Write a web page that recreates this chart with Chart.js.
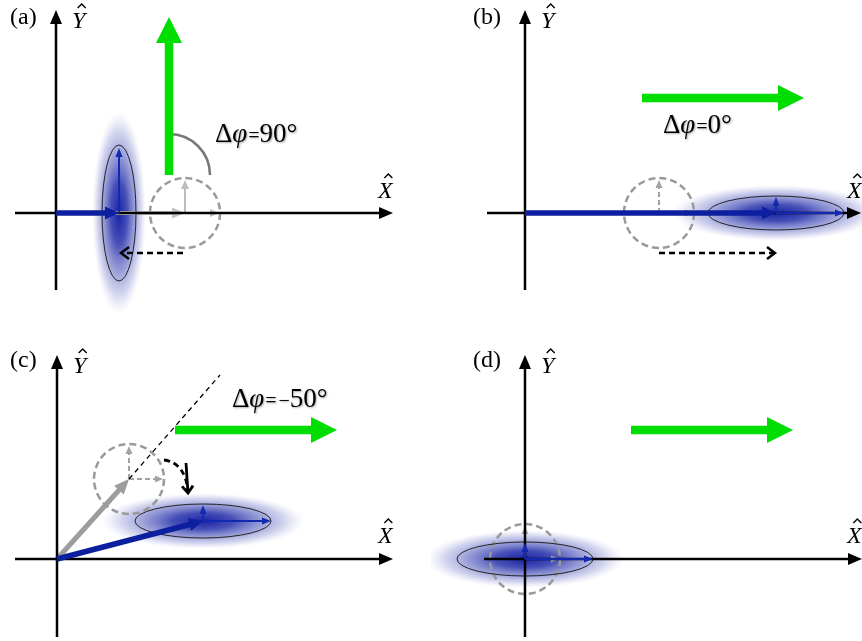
<!DOCTYPE html>
<html><head><meta charset="utf-8">
<script src="https://cdn.jsdelivr.net/npm/chart.js@4.4.1/dist/chart.umd.min.js"></script>
<style>
html,body{margin:0;padding:0;background:#fff;}
#wrap{position:relative;width:862px;height:641px;overflow:hidden;background:#fff;}
canvas{position:absolute;}
#fontwarm{position:absolute;left:-1000px;top:0;font-family:"Liberation Serif";font-size:24px;}
</style></head><body>
<div id="fontwarm">Δφ=90° (a) <i>XYφ</i></div>
<div id="wrap">
<canvas id="c0" width="431" height="320" style="left:0;top:0;width:431px;height:320px"></canvas>
<canvas id="c1" width="431" height="320" style="left:431px;top:0;width:431px;height:320px"></canvas>
<canvas id="c2" width="431" height="321" style="left:0;top:320px;width:431px;height:321px"></canvas>
<canvas id="c3" width="431" height="321" style="left:431px;top:320px;width:431px;height:321px"></canvas>
</div>
<script>
// ---------------- data ----------------
const panelLabels = ['(a)', '(b)', '(c)', '(d)'];
const phaseValues = ['90°', '0°', '−50°', null];

// green pump arrows: start -> end (quadrature units)
const pumpStart = [[113, 38], [117, 115], [118, 129], [106, 129]];
const pumpEnd   = [[113, 196], [279, 115], [280, 129], [268, 129]];

// squeezed state mean (blue)
const squeezedMean = [[63, 0], [251, 0], [146, 38], [0, 0]];
// squeezing ellipse semi-axes [x, y]
const ellipseAxes = [[17, 68], [68, 17], [68, 17], [68, 17]];
// gaussian blob semi-axes [x, y]
const blobAxes = [[27, 102], [104, 28], [102, 28], [100, 29]];
// quadrature arrows of squeezed state [dx, dy]
const quadArrowX = [0, 68, 68, 68];
const quadArrowY = [65, 16, 16, 16];

// reference coherent state (dashed circle)
const refCenter = [[129, 0], [134, 0], [72, 80], [0, 0]];
const refRadius = [35, 35, 35, 35];
const refArrowX = [34, 34, 34, 34];
const refArrowY = [33, 33, 33, 33];
const refDisplacementShown = [true, false, true, false];

// dashed black shift arrows: start, control (curve), end
const shiftStart = [[127, -40], [134, -40], [107, 99], null];
const shiftCtrl  = [null, null, [129, 96], null];
const shiftEnd   = [[65, -40], [250, -40], [131, 66], null];

// phase reference line (panel c)
const phaseLineStart = [null, null, [72, 80], null];
const phaseLineEnd   = [null, null, [163, 184], null];
// angle arc (panel a): radius around pump start
const arcRadius = [41, null, null, null];

// axis extents
const xAxisFrom = [-41, -38, -42, -41], xAxisTo = [337, 336, 336, 337];
const yAxisFrom = [-77, -77, -78, -78], yAxisTo = [203, 203, 204, 204];

// ---------------- layout (not data) ----------------
const boxes = [
  {w: 431, h: 320, ox: 56, oy: 213},
  {w: 431, h: 320, ox: 94, oy: 213},
  {w: 431, h: 321, ox: 57, oy: 239},
  {w: 431, h: 321, ox: 94, oy: 239}
];
const labelPos = [[-46, 189], [-52, 189], [-47, 192], [-52, 192]];
const yHatPos = [[16, 185], [16, 185], [16, 186], [16, 186]];
const xHatPos = [[322, 15], [322, 15], [321, 16], [322, 16]];
const phasePos = [[159, 71], [138, 80], [175, 152], null];

const STYLES = {
  axis:      {color: '#000', width: 2.5, headLen: 14, headW: 12},
  pump:      {color: '#00dd00', width: 8.5, headLen: 26, headW: 26},
  blueThick: {color: '#0c1f9e', width: 5.5, headLen: 14, headW: 13},
  blueThin:  {color: '#1229b0', width: 2, headLen: 9, headW: 7},
  grayThinA: {color: '#bdbdbd', width: 2, headLen: 9, headW: 8},
  grayThickA:{color: '#c2c2c2', width: 4, headLen: 13, headW: 11},
  grayThickC:{color: '#9d9d9d', width: 5, headLen: 15, headW: 13},
  grayDash:  {color: '#a3a3a3', width: 2, headLen: 8, headW: 7, dash: [5, 3]},
  shift:     {color: '#000', width: 2.5, headLen: 8, headW: 12, dash: [6, 4], open: true}
};
const SERIF = '"Liberation Serif", "Times New Roman", serif';

// ---------------- drawing helpers ----------------
function drawArrow(ctx, x0, y0, x1, y1, s) {
  const ang = Math.atan2(y1 - y0, x1 - x0);
  const ux = Math.cos(ang), uy = Math.sin(ang);
  ctx.save();
  ctx.strokeStyle = s.color; ctx.fillStyle = s.color; ctx.lineWidth = s.width;
  ctx.lineCap = 'butt'; ctx.lineJoin = 'miter';
  const back = s.open ? 1 : s.headLen * 0.85;
  ctx.setLineDash(s.dash || []);
  ctx.beginPath(); ctx.moveTo(x0, y0); ctx.lineTo(x1 - ux * back, y1 - uy * back); ctx.stroke();
  ctx.setLineDash([]);
  const bx = x1 - ux * s.headLen, by = y1 - uy * s.headLen;
  const px = -uy * s.headW / 2, py = ux * s.headW / 2;
  ctx.beginPath();
  if (s.open) {
    ctx.moveTo(bx + px, by + py); ctx.lineTo(x1, y1); ctx.lineTo(bx - px, by - py); ctx.stroke();
  } else {
    ctx.moveTo(x1, y1); ctx.lineTo(bx + px, by + py); ctx.lineTo(bx - px, by - py); ctx.closePath(); ctx.fill();
  }
  ctx.restore();
}

function drawHat(ctx, cx, topY) {
  ctx.save();
  ctx.strokeStyle = '#000'; ctx.lineWidth = 1.4; ctx.lineJoin = 'miter';
  ctx.beginPath(); ctx.moveTo(cx - 4, topY + 4); ctx.lineTo(cx, topY); ctx.lineTo(cx + 4, topY + 4); ctx.stroke();
  ctx.restore();
}

const diagramPlugin = {
  id: 'diagram',
  afterDatasetsDraw(chart) {
    const ctx = chart.ctx, xs = chart.scales.x, ys = chart.scales.y;
    const pxLen = v => Math.abs(xs.getPixelForValue(v) - xs.getPixelForValue(0));
    const pyLen = v => Math.abs(ys.getPixelForValue(v) - ys.getPixelForValue(0));
    chart.data.datasets.forEach((ds, i) => {
      const pts = chart.getDatasetMeta(i).data.map(p => ({x: p.x, y: p.y}));
      ctx.save();
      if (ds.kind === 'blob') {
        const c = pts[0];
        ctx.translate(c.x, c.y); ctx.scale(pxLen(ds.rx), pyLen(ds.ry));
        const g = ctx.createRadialGradient(0, 0, 0, 0, 0, 1);
        g.addColorStop(0, 'rgba(25,35,165,1)');
        g.addColorStop(0.3, 'rgba(50,60,175,0.9)');
        g.addColorStop(0.6, 'rgba(100,108,196,0.62)');
        g.addColorStop(0.8, 'rgba(145,150,212,0.4)');
        g.addColorStop(0.92, 'rgba(180,184,228,0.18)');
        g.addColorStop(1, 'rgba(215,217,242,0)');
        ctx.fillStyle = g; ctx.beginPath(); ctx.arc(0, 0, 1, 0, Math.PI * 2); ctx.fill();
      } else if (ds.kind === 'ellipse') {
        const c = pts[0];
        ctx.strokeStyle = '#222'; ctx.lineWidth = 1;
        ctx.beginPath(); ctx.ellipse(c.x, c.y, pxLen(ds.rx), pyLen(ds.ry), 0, 0, Math.PI * 2); ctx.stroke();
      } else if (ds.kind === 'circle') {
        const c = pts[0];
        ctx.strokeStyle = '#9a9a9a'; ctx.lineWidth = 2.5; ctx.setLineDash([7, 4]);
        ctx.beginPath(); ctx.arc(c.x, c.y, pxLen(ds.r), 0, Math.PI * 2); ctx.stroke();
      } else if (ds.kind === 'arrow') {
        drawArrow(ctx, pts[0].x, pts[0].y, pts[1].x, pts[1].y, STYLES[ds.style]);
      } else if (ds.kind === 'line') {
        ctx.strokeStyle = '#000'; ctx.lineWidth = 1.3; ctx.setLineDash([5, 4]);
        ctx.beginPath(); ctx.moveTo(pts[0].x, pts[0].y); ctx.lineTo(pts[1].x, pts[1].y); ctx.stroke();
      } else if (ds.kind === 'curve') {
        const s = STYLES.shift;
        ctx.strokeStyle = s.color; ctx.lineWidth = 2.8; ctx.setLineDash([6, 4]);
        ctx.beginPath(); ctx.moveTo(pts[0].x, pts[0].y);
        ctx.quadraticCurveTo(pts[1].x, pts[1].y, pts[2].x, pts[2].y); ctx.stroke();
        ctx.setLineDash([]);
        drawArrow(ctx, pts[1].x, pts[1].y, pts[2].x, pts[2].y, Object.assign({}, s, {dash: [], width: 2.8, headLen: 7, headW: 11}));
      } else if (ds.kind === 'arc') {
        const c = pts[0], r = pxLen(ds.r);
        ctx.strokeStyle = '#777'; ctx.lineWidth = 2.5;
        ctx.beginPath(); ctx.arc(c.x, c.y, r, -Math.PI / 2, 0); ctx.stroke();
      } else if (ds.kind === 'label') {
        const p = pts[0];
        ctx.fillStyle = '#000'; ctx.textBaseline = 'alphabetic';
        ctx.font = '24px ' + SERIF; ctx.fillText(ds.text, p.x, p.y);
      } else if (ds.kind === 'hat') {
        const p = pts[0];
        ctx.fillStyle = '#000'; ctx.textBaseline = 'alphabetic';
        ctx.font = 'italic 24px ' + SERIF; ctx.fillText(ds.text, p.x, p.y);
        const w = ctx.measureText(ds.text).width;
        drawHat(ctx, p.x + w / 2 + 3, p.y - 24);
      } else if (ds.kind === 'phase') {
        const p = pts[0];
        ctx.fillStyle = '#000'; ctx.textBaseline = 'alphabetic';
        ctx.shadowColor = 'rgba(0,0,0,0.35)'; ctx.shadowBlur = 2; ctx.shadowOffsetX = 1; ctx.shadowOffsetY = 1;
        const parts = [
          {t: 'Δ', f: '27px ' + SERIF},
          {t: 'φ', f: 'italic 27px ' + SERIF},
          {t: '=', f: '20px ' + SERIF, pad: 1}
        ];
        let v = ds.text;
        if (v.startsWith('−')) { parts.push({t: '−', f: '20px ' + SERIF, pad: 2}); v = v.slice(1); }
        parts.push({t: v, f: '27px ' + SERIF});
        let x = p.x;
        parts.forEach(pt => {
          ctx.font = pt.f; x += (pt.pad || 0);
          ctx.fillText(pt.t, x, p.y);
          x += ctx.measureText(pt.t).width;
        });
      }
      ctx.restore();
    });
  }
};

// ---------------- build panels ----------------
function P(a) { return {x: a[0], y: a[1]}; }

function buildDatasets(i) {
  const ds = [];
  const add = (o) => ds.push(Object.assign({pointRadius: 0, showLine: false}, o));
  const [mx, my] = squeezedMean[i];
  const [cx, cy] = refCenter[i];
  add({kind: 'blob', data: [P(squeezedMean[i])], rx: blobAxes[i][0], ry: blobAxes[i][1]});
  add({kind: 'circle', data: [P(refCenter[i])], r: refRadius[i]});
  const refStyle = i === 0 ? 'grayThinA' : 'grayDash';
  add({kind: 'arrow', style: refStyle, data: [P([cx, cy]), P([cx, cy + refArrowY[i]])]});
  add({kind: 'arrow', style: refStyle, data: [P([cx, cy]), P([cx + refArrowX[i], cy])]});
  if (refDisplacementShown[i]) {
    add({kind: 'arrow', style: i === 0 ? 'grayThickA' : 'grayThickC', data: [P([0, 0]), P(refCenter[i])]});
  }
  add({kind: 'ellipse', data: [P(squeezedMean[i])], rx: ellipseAxes[i][0], ry: ellipseAxes[i][1]});
  add({kind: 'arrow', style: 'axis', data: [P([xAxisFrom[i], 0]), P([xAxisTo[i], 0])]});
  add({kind: 'arrow', style: 'axis', data: [P([0, yAxisFrom[i]]), P([0, yAxisTo[i]])]});
  if (phaseLineStart[i]) add({kind: 'line', data: [P(phaseLineStart[i]), P(phaseLineEnd[i])]});
  if (shiftStart[i]) {
    if (shiftCtrl[i]) add({kind: 'curve', data: [P(shiftStart[i]), P(shiftCtrl[i]), P(shiftEnd[i])]});
    else add({kind: 'arrow', style: 'shift', data: [P(shiftStart[i]), P(shiftEnd[i])]});
  }
  if (mx !== 0 || my !== 0) add({kind: 'arrow', style: 'blueThick', data: [P([0, 0]), P(squeezedMean[i])]});
  if (quadArrowX[i]) add({kind: 'arrow', style: 'blueThin', data: [P([mx, my]), P([mx + quadArrowX[i], my])]});
  if (quadArrowY[i]) add({kind: 'arrow', style: 'blueThin', data: [P([mx, my]), P([mx, my + quadArrowY[i]])]});
  if (arcRadius[i]) add({kind: 'arc', data: [P(pumpStart[i])], r: arcRadius[i]});
  add({kind: 'arrow', style: 'pump', data: [P(pumpStart[i]), P(pumpEnd[i])]});
  add({kind: 'label', text: panelLabels[i], data: [P(labelPos[i])]});
  add({kind: 'hat', text: 'Y', data: [P(yHatPos[i])]});
  add({kind: 'hat', text: 'X', data: [P(xHatPos[i])]});
  if (phaseValues[i] !== null) add({kind: 'phase', text: phaseValues[i], data: [P(phasePos[i])]});
  return ds;
}

function buildAll() {
  boxes.forEach((b, i) => {
    new Chart(document.getElementById('c' + i), {
      type: 'scatter',
      data: {datasets: buildDatasets(i)},
      options: {
        responsive: false, animation: false, events: [],
        layout: {padding: 0},
        plugins: {legend: {display: false}, tooltip: {enabled: false}},
        elements: {point: {radius: 0, hoverRadius: 0}},
        scales: {
          x: {type: 'linear', display: false, min: -b.ox, max: b.w - b.ox},
          y: {type: 'linear', display: false, min: -(b.h - b.oy), max: b.oy}
        }
      },
      plugins: [diagramPlugin]
    });
  });
}

Promise.all([
  document.fonts.load('24px "Liberation Serif"', 'Δφ=90°(a)'),
  document.fonts.load('italic 24px "Liberation Serif"', 'XYφ')
]).catch(() => {}).then(buildAll);
</script>
</body></html>
